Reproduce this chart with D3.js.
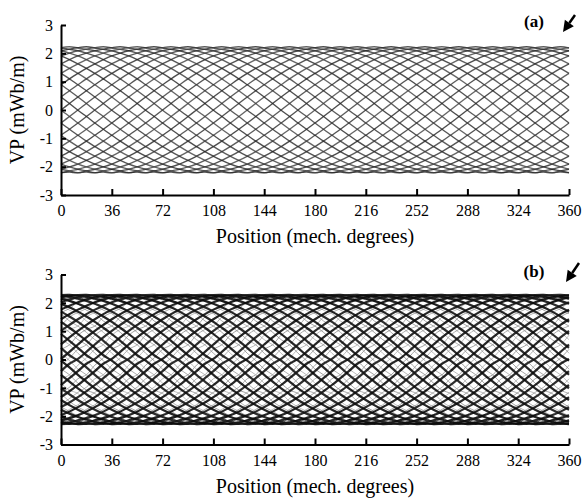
<!DOCTYPE html>
<html>
<head>
<meta charset="utf-8">
<script src="https://cdn.jsdelivr.net/npm/d3@7"></script>
<style>
  html, body { margin: 0; padding: 0; background: #fff; }
  svg { display: block; }
  text { font-family: "Liberation Serif", "Times New Roman", Times, serif; fill: #000; }
</style>
</head>
<body>
<svg id="chart" width="584" height="500"></svg>
<script>
// Air-gap vector potential over one mechanical revolution, one trace per rotor position.
const positionTicks = [0, 36, 72, 108, 144, 180, 216, 252, 288, 324, 360];
const vpTicks = [-3, -2, -1, 0, 1, 2, 3];
const sampleStep = 6; // degrees between stored samples

// Waveform at rotor position 0 (mWb/m), sampled every 6 degrees from 0 to 354.
const vpWaveA = [
  0.00, 0.23, 0.46, 0.68, 0.89, 1.10, 1.29, 1.47, 1.63, 1.78,
  1.91, 2.01, 2.09, 2.15, 2.20, 2.23, 2.19, 2.14, 2.09, 2.01,
  1.91, 1.78, 1.63, 1.47, 1.29, 1.10, 0.89, 0.68, 0.46, 0.23,
  -0.01, -0.23, -0.46, -0.68, -0.89, -1.10, -1.29, -1.47, -1.63, -1.78,
  -1.91, -2.01, -2.09, -2.15, -2.21, -2.19, -2.22, -2.15, -2.09, -2.01,
  -1.91, -1.78, -1.63, -1.47, -1.29, -1.10, -0.89, -0.68, -0.46, -0.23
];
// Main traces of case (b)
const vpWaveB = [
  0.02, 0.27, 0.53, 0.78, 1.01, 1.22, 1.42, 1.60, 1.76, 1.90,
  2.02, 2.12, 2.19, 2.24, 2.27, 2.28, 2.25, 2.21, 2.15, 2.07,
  1.97, 1.84, 1.69, 1.52, 1.33, 1.12, 0.90, 0.66, 0.41, 0.15,
  -0.04, -0.28, -0.54, -0.78, -1.02, -1.23, -1.43, -1.61, -1.77, -1.91,
  -2.03, -2.12, -2.20, -2.25, -2.28, -2.27, -2.26, -2.22, -2.15, -2.07,
  -1.97, -1.84, -1.68, -1.52, -1.33, -1.12, -0.90, -0.66, -0.41, -0.15
];
// Intermediate traces of case (b), with slot ripple
const vpWaveB2 = [
  0.05, 0.36, 0.52, 0.86, 1.06, 1.18, 1.50, 1.66, 1.80, 2.02,
  2.08, 2.00, 2.20, 2.26, 2.08, 2.22, 2.27, 2.10, 2.18, 2.24,
  2.05, 1.96, 1.74, 1.62, 1.36, 1.18, 0.96, 0.70, 0.52, 0.22,
  -0.04, -0.34, -0.54, -0.84, -1.08, -1.20, -1.48, -1.68, -1.83, -2.00,
  -2.10, -2.00, -2.22, -2.27, -2.06, -2.24, -2.28, -2.12, -2.16, -2.25,
  -2.03, -1.94, -1.76, -1.60, -1.38, -1.16, -0.98, -0.68, -0.54, -0.20
];
// Rotor positions (degrees) at which each trace was taken.
const rotorPosA = [0, 12, 24, 36, 48, 60, 72, 84, 96, 108, 120, 132, 144, 156, 168,
  180, 192, 204, 216, 228, 240, 252, 264, 276, 288, 300, 312, 324, 336, 348];
const rotorPosB = rotorPosA;
const rotorPosB2 = [6, 18, 30, 42, 54, 66, 78, 90, 102, 114, 126, 138, 150, 162, 174,
  186, 198, 210, 222, 234, 246, 258, 270, 282, 294, 306, 318, 330, 342, 354];
const strokeShadesA = ["#222222", "#363636", "#2a2a2a", "#404040"];
const strokeShadesB = ["#0a0a0a", "#181818", "#101010"];
const strokeShadesB2 = ["#8c8c8c", "#a0a0a0", "#7c7c7c"];

const svg = d3.select("#chart");
const serif = "'Liberation Serif', 'Times New Roman', Times, serif";

const defs = svg.append("defs");
defs.append("filter").attr("id", "soft")
  .append("feGaussianBlur").attr("stdDeviation", 0.45);

// Rotate the stored waveform by the rotor position to get one trace.
function traceFor(wave, rotorDeg) {
  const n = wave.length;
  const shift = Math.round(rotorDeg / sampleStep);
  const pts = [];
  for (let i = 0; i <= n; i++) {
    pts.push([i * sampleStep, wave[(((i - shift) % n) + n) % n]]);
  }
  return pts;
}

function drawPanel(cfg) {
  const x = d3.scaleLinear().domain([0, 360]).range([61, 569]);
  const y = d3.scaleLinear().domain([-3, 3]).range([cfg.y0 + 85, cfg.y0 - 85]);
  const g = svg.append("g");

  const line = d3.line()
    .x(d => x(d[0]))
    .y(d => y(d[1]))
    .curve(d3.curveCatmullRom.alpha(0.5));

  const traces = g.append("g").attr("filter", "url(#soft)");
  cfg.sets.forEach(set => {
    set.rotor.forEach((r, i) => {
      traces.append("path")
        .attr("d", line(traceFor(set.wave, r)))
        .attr("fill", "none")
        .attr("stroke", set.shades[i % set.shades.length])
        .attr("stroke-opacity", set.opacity)
        .attr("stroke-width", set.width);
    });
  });

  // Axes: left and bottom spines with inward ticks
  const fmt = d => String(d);
  const xAxis = d3.axisBottom(x).tickValues(positionTicks).tickFormat(fmt)
    .tickSizeInner(-6).tickSizeOuter(0).tickPadding(10);
  const yAxis = d3.axisLeft(y).tickValues(vpTicks).tickFormat(fmt)
    .tickSizeInner(-5).tickSizeOuter(0).tickPadding(8);

  const gx = g.append("g").attr("transform", `translate(0,${y(-3)})`).call(xAxis);
  const gy = g.append("g").attr("transform", `translate(${x(0)},0)`).call(yAxis);
  [gx, gy].forEach(a => {
    a.select(".domain").attr("stroke", "#000").attr("stroke-width", 2);
    a.selectAll(".tick line").attr("stroke", "#000").attr("stroke-width", 2);
    a.selectAll(".tick text").style("font-family", serif).style("font-size", "16px").attr("fill", "#000");
  });
  gy.selectAll(".tick text").attr("dy", "0.33em");

  g.append("text")
    .attr("x", (x(0) + x(360)) / 2)
    .attr("y", cfg.y0 + 133)
    .attr("text-anchor", "middle")
    .style("font-size", "20px")
    .text("Position (mech. degrees)");

  g.append("text")
    .attr("transform", `translate(24,${cfg.y0}) rotate(-90)`)
    .attr("text-anchor", "middle")
    .style("font-size", "20px")
    .text("VP (mWb/m)");

  g.append("text")
    .attr("x", 534)
    .attr("y", cfg.y0 - 83)
    .attr("text-anchor", "middle")
    .style("font-size", "17px")
    .style("font-weight", "bold")
    .text(cfg.label);

  // Direction-of-rotation arrow
  const ax = cfg.arrow;
  const ang = Math.atan2(ax[3] - ax[1], ax[2] - ax[0]);
  const L = 11, W = 5.5;
  const bx = ax[2] - L * Math.cos(ang), by = ax[3] - L * Math.sin(ang);
  g.append("line")
    .attr("x1", ax[0]).attr("y1", ax[1]).attr("x2", bx).attr("y2", by)
    .attr("stroke", "#000").attr("stroke-width", 2.5);
  g.append("path")
    .attr("d", `M${ax[2]},${ax[3]} L${bx + W * Math.sin(ang)},${by - W * Math.cos(ang)} L${bx - W * Math.sin(ang)},${by + W * Math.cos(ang)} Z`)
    .attr("fill", "#000");
}

drawPanel({
  y0: 110, label: "(a)", arrow: [575, 15, 563, 32],
  sets: [{ wave: vpWaveA, rotor: rotorPosA, shades: strokeShadesA, width: 1.4, opacity: 0.8 }]
});
drawPanel({
  y0: 359.5, label: "(b)", arrow: [579, 263, 566, 282],
  sets: [
    { wave: vpWaveB2, rotor: rotorPosB2, shades: strokeShadesB2, width: 1.0, opacity: 0.7 },
    { wave: vpWaveB, rotor: rotorPosB, shades: strokeShadesB, width: 2.2, opacity: 0.9 }
  ]
});
</script>
</body>
</html>
